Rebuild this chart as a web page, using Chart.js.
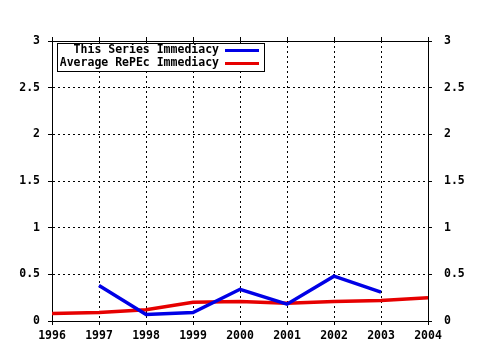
<!DOCTYPE html>
<html>
<head>
<meta charset="utf-8">
<script src="https://cdn.jsdelivr.net/npm/chart.js@4"></script>
<style>
  html, body { margin: 0; padding: 0; background: #fff; }
  #wrap { width: 480px; height: 350px; }
</style>
</head>
<body>
<div id="wrap"><canvas id="immChart" width="480" height="350"></canvas></div>
<script>
// chart data
const years = [1996, 1997, 1998, 1999, 2000, 2001, 2002, 2003, 2004];
const seriesValues = [null, 0.38, 0.07, 0.09, 0.34, 0.18, 0.48, 0.31, null];
const averageValues = [0.08, 0.09, 0.12, 0.20, 0.21, 0.19, 0.21, 0.22, 0.25];
const yTickLabels = ['0', '0.5', '1', '1.5', '2', '2.5', '3'];

const monoFont = { family: 'DejaVu Sans Mono', size: 11.5, weight: 'bold' };

function toPoints(values) {
    return years.map((y, i) => ({ x: y, y: values[i] })).filter(p => p.y !== null);
}

// Legend drawn inside the plot, like the original image
const boxLegend = {
    id: 'boxLegend',
    afterDraw(chart) {
        const ctx = chart.ctx;
        const area = chart.chartArea;
        const x0 = area.left + 5, y0 = area.top + 2;
        const w = 207, h = 28;
        ctx.save();
        ctx.fillStyle = '#fff';
        ctx.fillRect(x0, y0, w, h);
        ctx.strokeStyle = '#000';
        ctx.lineWidth = 1;
        ctx.strokeRect(x0 + 0.5, y0 + 0.5, w, h);
        ctx.font = 'bold 11.5px "DejaVu Sans Mono"';
        ctx.textAlign = 'right';
        ctx.textBaseline = 'middle';
        chart.data.datasets.forEach((ds, i) => {
            const cy = y0 + 7.5 + i * 13;
            ctx.fillStyle = '#000';
            ctx.fillText(ds.label, x0 + 162, cy);
            ctx.strokeStyle = ds.borderColor;
            ctx.lineWidth = 3;
            ctx.beginPath();
            ctx.moveTo(x0 + 168, cy);
            ctx.lineTo(x0 + 202, cy);
            ctx.stroke();
        });
        ctx.restore();
    }
};

const ctx = document.getElementById('immChart').getContext('2d');
new Chart(ctx, {
    type: 'line',
    data: {
        datasets: [{
            label: 'This Series Immediacy',
            data: toPoints(seriesValues),
            borderColor: '#0000e6',
            borderWidth: 3.5,
            pointRadius: 0,
            tension: 0
        }, {
            label: 'Average RePEc Immediacy',
            data: toPoints(averageValues),
            borderColor: '#e60000',
            borderWidth: 3.5,
            pointRadius: 0,
            tension: 0
        }]
    },
    options: {
        responsive: false,
        animation: false,
        layout: { padding: 0 },
        plugins: {
            legend: { display: false },
            tooltip: { enabled: false }
        },
        scales: {
            x: {
                type: 'linear',
                position: 'bottom',
                min: 1996,
                max: 2004,
                ticks: { stepSize: 1, color: '#000', font: monoFont, padding: 4, callback: v => String(v) },
                grid: { color: '#000', lineWidth: 1, tickLength: 4, tickBorderDash: [], tickColor: '#000' },
                border: { display: true, color: '#000', width: 1, dash: [2, 3] },
                afterFit(scale) { scale.height = 29; }
            },
            xTop: {
                type: 'linear',
                position: 'top',
                min: 1996,
                max: 2004,
                ticks: { stepSize: 1, display: false },
                grid: { drawOnChartArea: false, color: '#000', tickLength: 4, tickColor: '#000' },
                border: { display: true, color: '#000', width: 1 },
                afterFit(scale) { scale.height = 41; }
            },
            y: {
                position: 'left',
                min: 0,
                max: 3,
                ticks: { stepSize: 0.5, color: '#000', font: monoFont, padding: 8, callback: (v, i) => yTickLabels[i] },
                grid: { color: '#000', lineWidth: 1, tickLength: 4, tickBorderDash: [], tickColor: '#000' },
                border: { display: true, color: '#000', width: 1, dash: [2, 3] },
                afterFit(scale) { scale.width = 52; }
            },
            yRight: {
                position: 'right',
                min: 0,
                max: 3,
                ticks: { stepSize: 0.5, color: '#000', font: monoFont, padding: 12, callback: (v, i) => yTickLabels[i] },
                grid: { drawOnChartArea: false, color: '#000', tickLength: 4, tickColor: '#000' },
                border: { display: true, color: '#000', width: 1 },
                afterFit(scale) { scale.width = 52; }
            }
        }
    },
    plugins: [boxLegend]
});
</script>
</body>
</html>
